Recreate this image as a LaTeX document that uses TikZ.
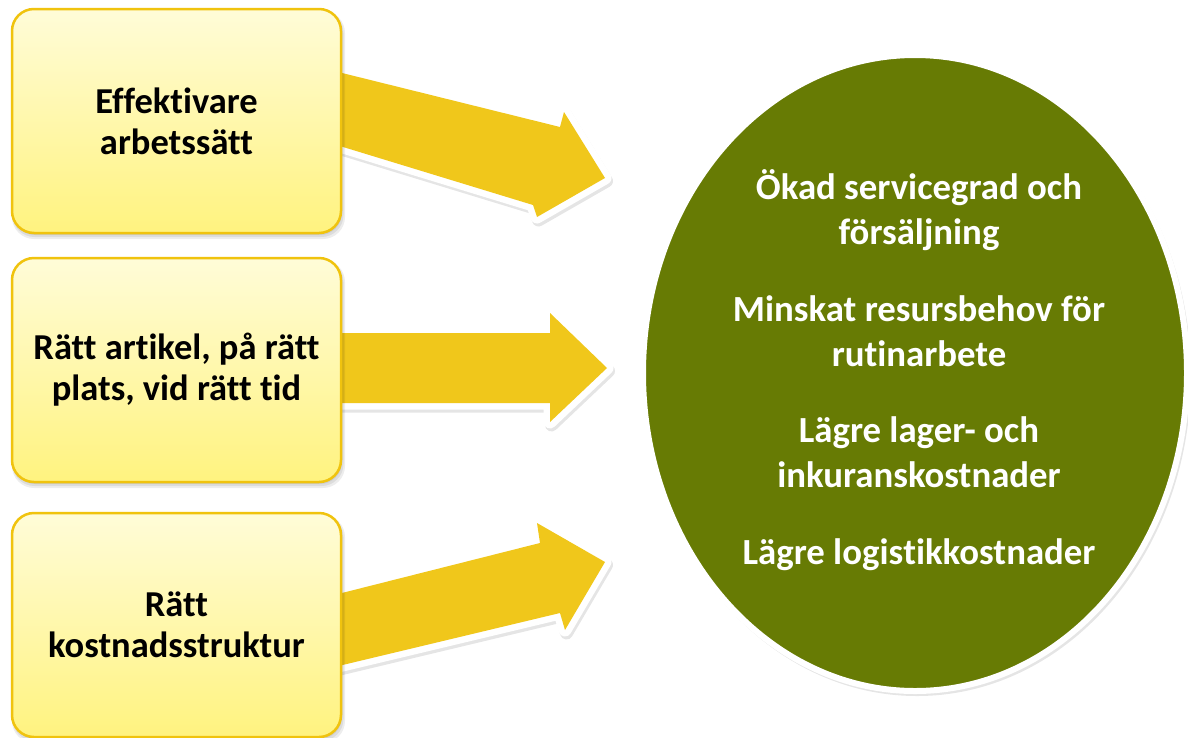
\documentclass[tikz,border=0pt]{standalone}
\usepackage{fontspec}
\setmainfont{Carlito}[RawFeature={-liga;-clig;-calt;-dlig;-hlig}]
\usetikzlibrary{shapes.geometric}
\newcommand{\tq}{\mbox{t}}
\definecolor{boxtop}{HTML}{FFFCD8}
\definecolor{boxbot}{HTML}{FFF37F}
\definecolor{boxline}{HTML}{F0C30E}
\definecolor{arrowc}{HTML}{F0C71B}
\definecolor{olivec}{HTML}{677B04}
\begin{document}
\begin{tikzpicture}[x=1pt,y=1pt,
  inbox/.style={rectangle, rounded corners=22pt, minimum width=329pt, minimum height=224pt,
    draw=boxline, line width=2.5pt, top color=boxtop, bottom color=boxbot,
    align=center, font=\bfseries\fontsize{36.5}{41}\selectfont, inner sep=0pt},
  boxshadow/.style={rectangle, rounded corners=22pt, minimum width=329pt, minimum height=224pt,
    fill=black, fill opacity=0.07, draw=none, inner sep=0pt},
  bigarrow/.style={fill=arrowc, draw=none},
  arrowrim/.style={draw=white, line width=13pt, line join=round},
  arrowshadow/.style={draw=black, draw opacity=0.10, line width=13pt, line join=round},
  goal/.style={ellipse, minimum width=544pt, minimum height=636pt, fill=olivec,
    draw=white, line width=6pt, inner sep=0pt},
  goaltext/.style={align=center, text=white, font=\bfseries\fontsize{36.8}{45}\selectfont, inner sep=0pt}
]
\useasboundingbox (0,0) rectangle (1188,-737);
\fill[white] (0,0) rectangle (1188,-737);

% arrows (behind boxes)
\foreach \p in {
  {(330,-70) -- (560,-127) -- (564,-112) -- (605,-178) -- (537,-217) -- (533,-205) -- (330,-143) -- cycle},
  {(330,-333) -- (550,-333) -- (550,-313) -- (607,-368) -- (550,-422) -- (550,-403) -- (330,-403) -- cycle},
  {(330,-596) -- (540,-543) -- (537,-523) -- (605,-562) -- (565,-630) -- (560,-613) -- (330,-668) -- cycle}
}{
  \begin{scope}[shift={(1.5,-3)}]
    \path[arrowshadow] \p;
  \end{scope}
  \path[arrowrim] \p;
  \path[bigarrow] \p;
}

% box shadows
\foreach \c in {121,370,625}{
  \node[boxshadow, minimum width=333pt, minimum height=228pt] at (178.5,-\c-4) {};
  \node[boxshadow, minimum width=331pt, minimum height=226pt] at (178,-\c-3) {};
  \node[boxshadow] at (177.5,-\c-2) {};
}

% boxes
\node[inbox] (b1) at (176.5,-121) {Effek\tq ivare\\arbetssätt};
\node[inbox] (b2) at (176.5,-370) {Rätt ar\tq ikel, på rätt\\plats, vid rätt tid};
\node[inbox] (b3) at (176.5,-625) {Rätt\\kostnadsstruktur};

% goal ellipse
\node[ellipse, minimum width=548pt, minimum height=640pt, fill=black, fill opacity=0.10, inner sep=0pt] (gs) at (917,-376) {};
\node[goal] (g) at (915,-373) {};
\node[goaltext] (gt) at (919,-370.5) {Ökad servicegrad och\\försäljning\\[32pt]Minskat resursbehov för\\ru\tq inarbete\\[31pt]Lägre lager- och\\inkuranskostnader\\[32pt]Lägre logis\tq ikkostnader};
\end{tikzpicture}
\end{document}
